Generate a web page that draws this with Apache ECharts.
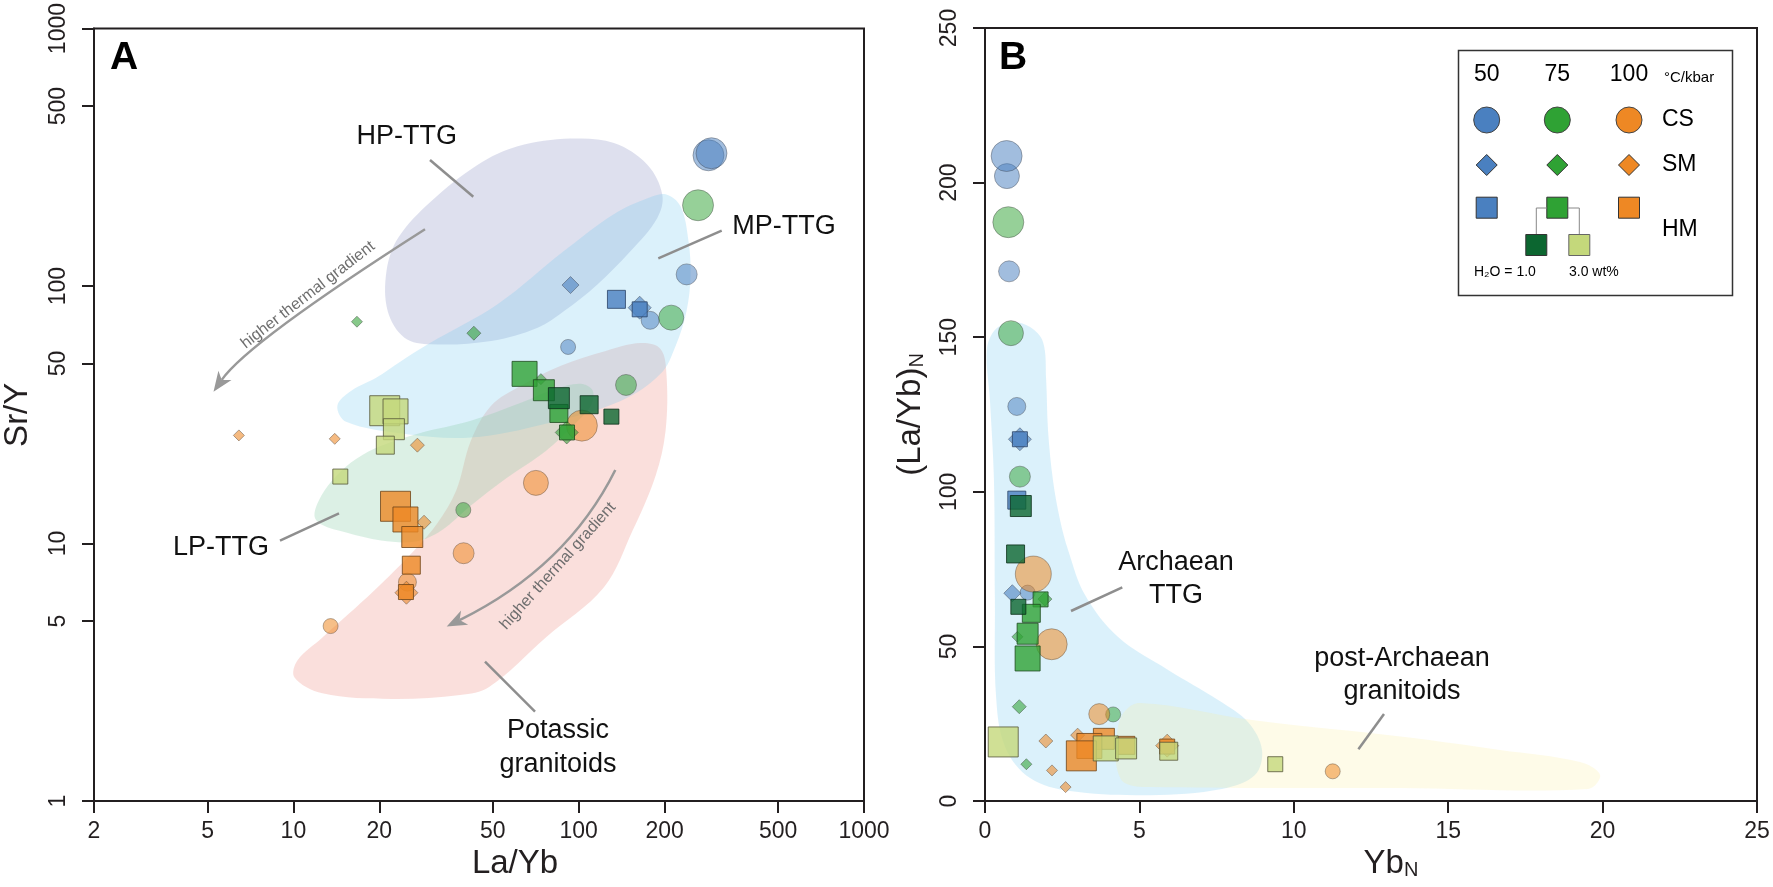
<!DOCTYPE html>
<html>
<head>
<meta charset="utf-8">
<title>Sr/Y vs La/Yb and (La/Yb)N vs YbN</title>
<script src="https://cdn.jsdelivr.net/npm/echarts@6.0.0/dist/echarts.min.js"></script>
<style>
html,body{margin:0;padding:0;background:#ffffff;}
#chart{width:1773px;height:887px;}
</style>
</head>
<body>
<div id="chart"></div>
<script>
// ---------------- Tick labels ----------------
const aXTicks = [2, 5, 10, 20, 50, 100, 200, 500, 1000];
const aYTicks = [1, 5, 10, 50, 100, 500, 1000];

// ---------------- Panel A : [La/Yb, Sr/Y, size class] ----------------
const aCS50  = [[285, 322, 5], [292, 328, 5], [239, 111, 3], [178, 73.6, 2], [91.8, 58, 1]];
const aCS75  = [[262, 206, 5], [211, 75.4, 4], [146.5, 41.3, 3], [39.4, 13.5, 1]];
const aCS100 = [[102.6, 28.7, 5], [70.8, 17.2, 4], [39.5, 9.17, 3], [25.1, 7.08, 2], [13.5, 4.78, 1]];
const aSM50  = [[93.6, 100.9, 3], [163.6, 82.4, 5]];
const aSM75  = [[16.7, 72.7, 1], [42.9, 65.6, 2], [73.7, 43.5, 1], [90.8, 27.0, 5]];
const aSM100 = [[6.44, 26.3, 1], [13.96, 25.5, 1], [27.2, 24.1, 2], [28.7, 12.1, 2], [24.9, 6.44, 5]];
const aHM50  = [[135.6, 88.8, 2], [163.6, 81.2, 1]];
const aHM75  = [[64.6, 45.6, 4], [75.5, 39.4, 3], [85.2, 32.0, 2], [91.0, 27.0, 1]];
const aHM75dry = [[85.2, 36.7, 3], [108.8, 34.6, 2], [130.2, 31.1, 1]];
const aHM75wet = [[20.9, 32.8, 5], [22.8, 32.6, 4], [22.5, 27.8, 3], [21.0, 24.1, 2], [14.6, 18.2, 1]];
const aHM100 = [[22.8, 13.95, 5], [24.7, 12.4, 4], [26.1, 10.6, 3], [25.9, 8.24, 2], [24.8, 6.48, 1]];

// ---------------- Panel B : [YbN, (La/Yb)N, size class] ----------------
const bCS50  = [[0.71, 202.1, 4], [0.70, 208.6, 5], [0.78, 171.3, 3], [1.03, 127.6, 2], [1.38, 67.4, 1]];
const bCS75  = [[0.755, 187.2, 5], [0.84, 151.3, 4], [1.13, 104.9, 3], [4.15, 28.0, 1]];
const bCS100 = [[1.565, 73.4, 6], [2.16, 50.7, 5], [3.70, 28.1, 3], [11.26, 9.6, 1]];
const bSM50  = [[1.13, 117, 5], [0.885, 67.2, 3]];
const bSM75  = [[1.94, 65.3, 2], [1.05, 53.1, 1], [1.11, 30.5, 2], [1.34, 11.9, 1]];
const bSM100 = [[1.97, 19.4, 2], [2.17, 9.9, 1], [2.61, 4.5, 1], [3.0, 21.3, 2], [5.90, 17.9, 5]];
const bHM50  = [[1.13, 117, 1], [1.03, 97.3, 2]];
const bHM75  = [[1.80, 65.2, 1], [1.50, 60.7, 2], [1.38, 54.1, 3], [1.38, 46.1, 4]];
const bHM75dry = [[1.16, 95.4, 3], [0.99, 79.9, 2], [1.08, 62.8, 1]];
const bHM100 = [[3.85, 20.1, 3], [4.56, 18.0, 2], [5.90, 17.6, 1], [3.38, 17.8, 4], [3.12, 14.6, 5]];
const bHM75wet = [[0.59, 19.1, 5], [3.91, 17.0, 4], [4.57, 17.0, 3], [5.95, 16.1, 2], [9.40, 11.9, 1]];

// ---------------- Compositional fields (data coordinates) ----------------
const fieldHP = [[21.2,114.3],[23.3,153.9],[30.4,213.5],[44.3,296],[61.1,348.9],[93.8,373.8],[132.9,359.3],[174.0,296],[196.3,226.6],[188.6,183.9],[152.1,136.7],[116.3,101.5],[88.9,80.0],[71.8,68.9],[49.3,61.2],[30.4,59.4],[24.5,63.05],[21.4,80.0]];
const fieldMP = [[14.26,34.3],[15.96,39.2],[19.5,44.0],[23.9,51.2],[29.7,59.6],[52.1,85.2],[88.7,136.7],[132.7,190.2],[174.4,219.3],[201.6,227.3],[227.4,204.2],[242.6,149.4],[246.6,109.3],[238.8,80.0],[218.6,58.5],[193.6,45.6],[140.3,35.8],[76.7,29.2],[41.9,25.8],[24.3,26.7],[15.3,29.7]];
const fieldLP = [[11.85,12.84],[12.54,15.35],[14.15,18.35],[16.63,21.35],[20.32,23.98],[28.05,26.93],[41.9,29.98],[62.7,35.2],[83.2,39.9],[101.7,41.7],[112.0,39.2],[110.2,34.3],[97.7,29.4],[76.7,22.9],[55.6,17.9],[41.9,14.04],[33.0,11.23],[26.9,10.18],[20.3,10.27],[15.3,11.03],[12.54,11.85]];
const fieldK  = [[41.9,25.1],[49.3,34.3],[62.7,41.0],[86.6,49.0],[124.4,56.0],[164.8,60.1],[193.6,57.0],[203.2,44.8],[201.6,27.4],[186.0,18.35],[154.5,11.23],[122.4,6.75],[76.7,4.32],[48.5,2.77],[38.4,2.58],[22.0,2.49],[12.64,2.62],[10.09,3.02],[10.34,3.52],[12.64,4.32],[19.2,6.57],[26.5,9.4],[31.9,11.96],[37.2,16.05]];
const fieldArch = [[0.84,154.9],[1.46,153.3],[1.88,148.4],[1.98,136.2],[2.04,120.0],[2.20,103.8],[2.43,90.9],[2.69,81.2],[3.24,66.6],[4.31,53.0],[5.93,42.4],[7.55,32.7],[8.52,25.5],[8.97,16.5],[8.74,8.4],[7.67,3.9],[5.34,1.9],[2.75,3.2],[1.46,7.4],[0.65,17.5],[0.36,33.6],[0.32,65.0],[0.29,103.8],[0.16,129.7],[0.06,145.9],[0.32,152.3]];
const fieldPost = [[4.24,18.1],[4.44,27.8],[5.02,31.7],[8.65,26.2],[13.60,20.7],[16.68,16.5],[19.27,12.6],[19.92,8.4],[19.53,3.9],[13.44,4.2],[5.34,4.5],[4.53,5.8],[4.27,10.7]];

// ---------------- Styling ----------------
const FONT = '"Liberation Sans", Arial, Helvetica, sans-serif';
const INK = '#231F20';
const SIZE = {
  circle: [0, 15, 18, 21, 25, 31, 36],
  diamond: [0, 11, 14, 17, 20, 23],
  rect: [0, 15, 18, 21, 25, 30]
};
const C = {
  blue: '#4A80C0', green: '#2FA234', orange: '#EE8824', dark: '#0C6630', light: '#C4D87B'
};
const ST = {
  CS50:  {symbol: 'circle', fill: 'rgba(74,128,192,0.65)', border: 'rgba(70,75,85,0.55)'},
  CS75:  {symbol: 'circle', fill: 'rgba(47,162,52,0.63)', border: 'rgba(70,75,70,0.55)'},
  CS100: {symbol: 'circle', fill: 'rgba(238,136,36,0.68)', border: 'rgba(90,75,60,0.55)'},
  SM50:  {symbol: 'diamond', fill: 'rgba(74,128,192,0.75)', border: 'rgba(60,70,85,0.6)'},
  SM75:  {symbol: 'diamond', fill: 'rgba(47,162,52,0.72)', border: 'rgba(60,75,60,0.6)'},
  SM100: {symbol: 'diamond', fill: 'rgba(238,136,36,0.72)', border: 'rgba(90,75,60,0.6)'},
  HM50:  {symbol: 'rect', fill: C.blue, border: '#2B4366'},
  HM75:  {symbol: 'rect', fill: C.green, border: '#1E4A1E'},
  HMdry: {symbol: 'rect', fill: C.dark, border: '#0A2E18'},
  HMwet: {symbol: 'rect', fill: C.light, border: '#55563A'},
  HM100: {symbol: 'rect', fill: C.orange, border: '#6E4418'}
};

function scatter(name, panel, data, st, z) {
  return {
    name: name, type: 'scatter', xAxisIndex: panel, yAxisIndex: panel,
    data: data, symbol: st.symbol,
    symbolSize: function (v) { return SIZE[st.symbol][v[2]]; },
    itemStyle: {color: st.fill, borderColor: st.border, borderWidth: 1},
    emphasis: {disabled: true}, silent: true, z: z, animation: false
  };
}
function region(name, panel, pts, fill, z) {
  return {
    name: name, type: 'custom', xAxisIndex: panel, yAxisIndex: panel, z: z,
    silent: true, animation: false, data: [pts[0]], encode: {x: 0, y: 1},
    renderItem: function (params, api) {
      return {
        type: 'polygon',
        shape: {points: pts.map(function (p) { return api.coord(p); }), smooth: 0.35},
        style: {fill: fill, stroke: null}
      };
    }
  };
}

function logFmt(v) { return String(Math.round(v * 1000) / 1000); }

function baseAxis(extra) {
  return Object.assign({
    axisLine: {show: true, onZero: false, lineStyle: {color: INK, width: 2}},
    axisTick: {show: true, inside: false, length: 12, lineStyle: {color: INK, width: 2}},
    splitLine: {show: false},
    minorTick: {show: false},
    minorSplitLine: {show: false},
    nameLocation: 'middle'
  }, extra);
}

const xLabel = {fontFamily: FONT, fontSize: 23, color: INK, margin: 19};
const yLabel = {fontFamily: FONT, fontSize: 23, color: INK, margin: 24, rotate: 90};
const nameStyle = {fontFamily: FONT, fontSize: 33, color: INK};
const subRich = {
  m: {fontFamily: FONT, fontSize: 33, color: INK, lineHeight: 33, verticalAlign: 'top'},
  s: {fontFamily: FONT, fontSize: 20, color: INK, lineHeight: 14, verticalAlign: 'bottom'}
};

// ---------------- Annotations (leader lines, arrows, labels, legend) ----------------
const GREY = '#8E8E8E';
function line(x1, y1, x2, y2) {
  return {type: 'line', z: 20, silent: true, shape: {x1: x1, y1: y1, x2: x2, y2: y2},
    style: {stroke: GREY, lineWidth: 2.5}};
}
function txt(x, y, s, size, extra, z) {
  return Object.assign({type: 'text', z: z || 20, silent: true, x: x, y: y,
    style: Object.assign({text: s, font: size + 'px ' + FONT, fill: '#111',
      align: 'center', verticalAlign: 'middle', textAlign: 'center', textVerticalAlign: 'middle'}, (extra && extra.style) || {})},
    extra && extra.el ? extra.el : {});
}
function arrow(sx, sy, cx, cy, ex, ey) {
  const dx = ex - cx, dy = ey - cy, L = Math.sqrt(dx * dx + dy * dy);
  const ux = dx / L, uy = dy / L, px = -uy, py = ux;
  const hl = 20, hw = 8;
  const bx = ex - ux * hl, by = ey - uy * hl;
  const nx = ex - ux * hl * 0.72, ny = ey - uy * hl * 0.72;
  return [
    {type: 'bezierCurve', z: 20, silent: true,
      shape: {x1: sx, y1: sy, x2: nx, y2: ny, cpx1: cx, cpy1: cy},
      style: {stroke: '#999', lineWidth: 2.5, fill: null}},
    {type: 'polygon', z: 21, silent: true,
      shape: {points: [[ex, ey], [bx + px * hw, by + py * hw], [nx, ny], [bx - px * hw, by - py * hw]]},
      style: {fill: '#999', stroke: null}}
  ];
}
function sq(cx, cy, s, fill, stroke) {
  return {type: 'rect', z: 31, silent: true, shape: {x: cx - s / 2, y: cy - s / 2, width: s, height: s},
    style: {fill: fill, stroke: stroke, lineWidth: 1}};
}
function dia(cx, cy, s, fill) {
  const h = s / 2;
  return {type: 'polygon', z: 31, silent: true,
    shape: {points: [[cx, cy - h], [cx + h, cy], [cx, cy + h], [cx - h, cy]]},
    style: {fill: fill, stroke: '#333', lineWidth: 1}};
}
function circ(cx, cy, r, fill) {
  return {type: 'circle', z: 31, silent: true, shape: {cx: cx, cy: cy, r: r},
    style: {fill: fill, stroke: '#444', lineWidth: 1}};
}
function lgTxt(x, y, s, size) {
  return txt(x, y, s, size, {style: {fill: '#000'}}, 32);
}
function lgLeft(x, y, s, size) {
  return txt(x, y, s, size, {style: {align: 'left', textAlign: 'left', fill: '#000'}}, 32);
}

const lx = [1486.7, 1557.3, 1629];
const graphics = [
  // panel letters
  {type: 'text', z: 20, silent: true, x: 110, y: 58, style: {text: 'A', font: 'bold 39px ' + FONT, fill: '#000', align: 'left', verticalAlign: 'middle', textAlign: 'left', textVerticalAlign: 'middle'}},
  {type: 'text', z: 20, silent: true, x: 999, y: 58, style: {text: 'B', font: 'bold 39px ' + FONT, fill: '#000', align: 'left', verticalAlign: 'middle', textAlign: 'left', textVerticalAlign: 'middle'}},
  // panel A field labels
  txt(406.7, 137, 'HP-TTG', 27), line(430, 160, 473.3, 196.7),
  txt(784, 227, 'MP-TTG', 27), line(658.3, 258.3, 721.7, 230.7),
  txt(221, 548, 'LP-TTG', 27), line(280, 540.7, 339, 513.3),
  txt(558, 748, 'Potassic\ngranitoids', 27, {style: {lineHeight: 34}}), line(485, 661.7, 535, 711.7),
  txt(308, 295, 'higher thermal gradient', 16, {style: {fill: '#6E6E6E'}, el: {rotation: 0.66}}),
  txt(558, 566, 'higher thermal gradient', 16, {style: {fill: '#6E6E6E'}, el: {rotation: 0.84}}),
  // panel B field labels
  txt(1176, 579, 'Archaean\nTTG', 27, {style: {lineHeight: 33}}), line(1071, 611, 1122.3, 587.3),
  txt(1402, 675.5, 'post-Archaean\ngranitoids', 27, {style: {lineHeight: 33}}), line(1384, 714, 1358.4, 749.3),
  // legend box
  {type: 'rect', z: 30, silent: true, shape: {x: 1458.5, y: 50.5, width: 274, height: 245},
    style: {fill: '#fff', stroke: '#333', lineWidth: 1.5}},
  lgTxt(lx[0], 75, '50', 23), lgTxt(lx[1], 75, '75', 23), lgTxt(lx[2], 75, '100', 23),
  lgLeft(1664, 78, '°C/kbar', 15),
  circ(lx[0], 120, 13, C.blue), circ(lx[1], 120, 13, C.green), circ(lx[2], 120, 13, C.orange),
  lgLeft(1662, 120, 'CS', 23),
  dia(lx[0], 165, 21, C.blue), dia(lx[1], 165, 21, C.green), dia(lx[2], 165, 21, C.orange),
  lgLeft(1662, 165, 'SM', 23),
  sq(lx[0], 207.7, 21, C.blue, '#333'), sq(lx[1], 207.7, 21, C.green, '#333'), sq(lx[2], 207.7, 21, C.orange, '#333'),
  {type: 'polyline', z: 31, silent: true, shape: {points: [[1546.8, 208], [1536.3, 208], [1536.3, 234.5]]}, style: {stroke: '#888', lineWidth: 1, fill: null}},
  {type: 'polyline', z: 31, silent: true, shape: {points: [[1567.8, 208], [1579.3, 208], [1579.3, 234.5]]}, style: {stroke: '#888', lineWidth: 1, fill: null}},
  sq(1536.3, 245, 21, C.dark, '#333'), sq(1579.3, 245, 21, C.light, '#666'),
  lgLeft(1662, 230, 'HM', 23),
  lgLeft(1474, 272, 'H₂O = 1.0', 14), lgLeft(1569, 272, '3.0 wt%', 14)
].concat(arrow(425, 229.3, 248.2, 342.1, 213.5, 391.7), arrow(615.3, 470, 567, 567, 446.7, 626.5));

const option = {
  backgroundColor: '#ffffff',
  animation: false,
  grid: [
    {left: 92, top: 28, width: 772, height: 773, show: true, borderColor: INK, borderWidth: 2, backgroundColor: 'transparent', containLabel: false},
    {left: 985, top: 28, width: 772, height: 773, show: true, borderColor: INK, borderWidth: 2, backgroundColor: 'transparent', containLabel: false}
  ],
  xAxis: [
    baseAxis({gridIndex: 0, type: 'log', logBase: 10, min: 2, max: 1000,
      name: 'La/Yb', nameGap: 44, nameTextStyle: Object.assign({padding: [0, 0, 0, 72]}, nameStyle),
      axisTick: {show: true, inside: false, length: 12, lineStyle: {color: INK, width: 2}, customValues: aXTicks},
      axisLabel: Object.assign({customValues: aXTicks, formatter: logFmt}, xLabel)}),
    baseAxis({gridIndex: 1, type: 'value', min: 0, max: 25, interval: 5,
      name: '{m|Yb}{s|N}', nameGap: 44, nameTextStyle: {rich: subRich, padding: [0, 0, 0, 40]},
      axisLabel: xLabel})
  ],
  yAxis: [
    baseAxis({gridIndex: 0, type: 'log', logBase: 10, min: 1, max: 1000,
      name: 'Sr/Y', nameGap: 60, nameTextStyle: nameStyle,
      axisTick: {show: true, inside: false, length: 12, lineStyle: {color: INK, width: 2}, customValues: aYTicks},
      axisLabel: Object.assign({customValues: aYTicks, formatter: logFmt}, yLabel)}),
    baseAxis({gridIndex: 1, type: 'value', min: 0, max: 250, interval: 50,
      name: '{m|(La/Yb)}{s|N}', nameGap: 58, nameTextStyle: {rich: subRich},
      axisLabel: yLabel})
  ],
  series: [
    region('Potassic granitoids', 0, fieldK, 'rgba(240,150,140,0.30)', 1),
    region('HP-TTG', 0, fieldHP, 'rgba(160,165,205,0.35)', 1),
    region('MP-TTG', 0, fieldMP, 'rgba(110,200,240,0.25)', 1),
    region('LP-TTG', 0, fieldLP, 'rgba(140,205,170,0.30)', 1),
    region('Archaean TTG', 1, fieldArch, 'rgba(110,200,240,0.25)', 1),
    region('post-Archaean granitoids', 1, fieldPost, 'rgba(250,238,150,0.22)', 1),

    scatter('CS 50', 0, aCS50, ST.CS50, 3),
    scatter('CS 75', 0, aCS75, ST.CS75, 3),
    scatter('CS 100', 0, aCS100, ST.CS100, 3),
    scatter('SM 50', 0, aSM50, ST.SM50, 4),
    scatter('SM 75', 0, aSM75, ST.SM75, 4),
    scatter('SM 100', 0, aSM100, ST.SM100, 4),
    scatter('HM 50', 0, aHM50, ST.HM50, 5),
    scatter('HM 100', 0, aHM100, ST.HM100, 5),
    scatter('HM 75', 0, aHM75, ST.HM75, 5),
    scatter('HM 75 H2O 1.0', 0, aHM75dry, ST.HMdry, 5),
    scatter('HM 75 H2O 3.0', 0, aHM75wet, ST.HMwet, 5),

    scatter('CS 50', 1, bCS50, ST.CS50, 3),
    scatter('CS 75', 1, bCS75, ST.CS75, 3),
    scatter('CS 100', 1, bCS100, ST.CS100, 3),
    scatter('SM 50', 1, bSM50, ST.SM50, 4),
    scatter('SM 75', 1, bSM75, ST.SM75, 4),
    scatter('SM 100', 1, bSM100, ST.SM100, 4),
    scatter('HM 50', 1, bHM50, ST.HM50, 5),
    scatter('HM 100', 1, bHM100, ST.HM100, 5),
    scatter('HM 75', 1, bHM75, ST.HM75, 5),
    scatter('HM 75 H2O 1.0', 1, bHM75dry, ST.HMdry, 5),
    scatter('HM 75 H2O 3.0', 1, bHM75wet, ST.HMwet, 5)
  ],
  graphic: {elements: graphics}
};

const chart = echarts.init(document.getElementById('chart'), null, {renderer: 'canvas', width: 1773, height: 887});
chart.setOption(option);
</script>
</body>
</html>
